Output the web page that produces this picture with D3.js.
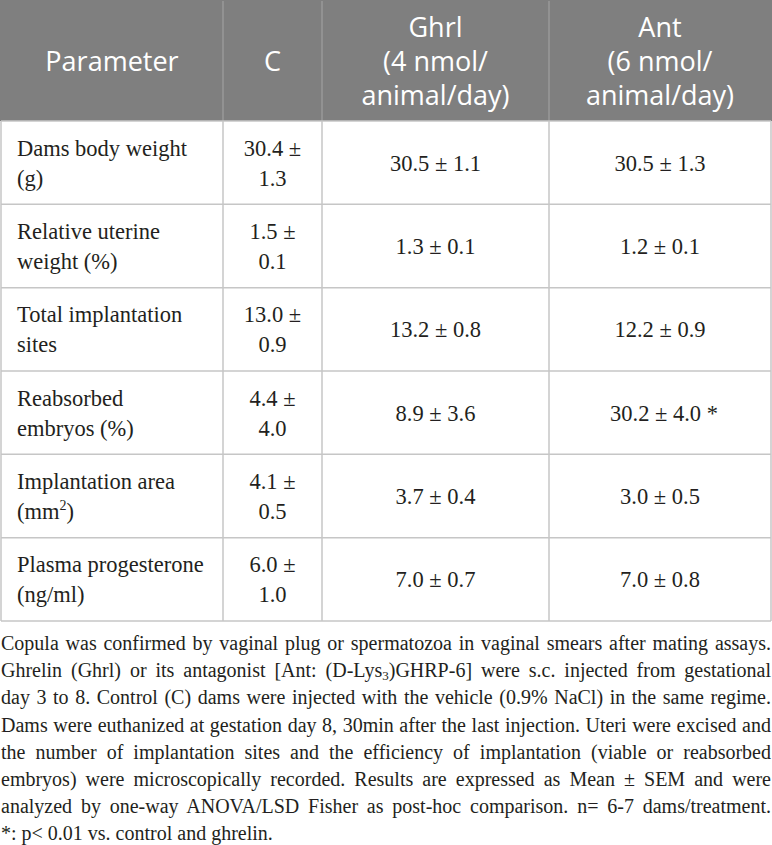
<!DOCTYPE html>
<html>
<head>
<meta charset="utf-8">
<script src="https://cdn.jsdelivr.net/npm/d3@7"></script>
<style>
  body { margin: 0; background: #fff; width: 772px; height: 845px; position: relative; overflow: hidden; }
  svg { position: absolute; left: 0; top: 0; }
  #note { position: absolute; left: 1px; top: 630px; width: 770px;
          font-family: "Liberation Serif", serif; font-size: 20px; line-height: 27.2px; color: #231f20; }
  #note div { white-space: nowrap; text-align: justify; text-align-last: justify; }
  #note div.last { text-align-last: left; }
  #note sub { font-size: 13px; vertical-align: -3px; line-height: 0; }
</style>
</head>
<body>
<svg id="table" width="772" height="625"></svg>
<div id="note"></div>
<script>
// header labels (one entry per line)
const headers = [
    ['Parameter'],
    ['C'],
    ['Ghrl', '(4 nmol/', 'animal/day)'],
    ['Ant', '(6 nmol/', 'animal/day)']
];

// row labels, as they are broken in the table
const parameters = [
    ['Dams body weight', '(g)'],
    ['Relative uterine', 'weight (%)'],
    ['Total implantation', 'sites'],
    ['Reabsorbed', 'embryos (%)'],
    ['Implantation area', '(mm^2)'],
    ['Plasma progesterone', '(ng/ml)']
];

const controlMean = [30.4, 1.5, 13.0, 4.4, 4.1, 6.0];
const controlSem  = [1.3, 0.1, 0.9, 4.0, 0.5, 1.0];
const ghrlMean    = [30.5, 1.3, 13.2, 8.9, 3.7, 7.0];
const ghrlSem     = [1.1, 0.1, 0.8, 3.6, 0.4, 0.7];
const antMean     = [30.5, 1.2, 12.2, 30.2, 3.0, 7.0];
const antSem      = [1.3, 0.1, 0.9, 4.0, 0.5, 0.8];
const antSignif   = [false, false, false, true, false, false];

const noteLines = [
    'Copula was confirmed by vaginal plug or spermatozoa in vaginal smears after mating assays.',
    'Ghrelin (Ghrl) or its antagonist [Ant: (D-Lys<sub>3</sub>)GHRP-6] were s.c. injected from gestational',
    'day 3 to 8. Control (C) dams were injected with the vehicle (0.9% NaCl) in the same regime.',
    'Dams were euthanized at gestation day 8, 30min after the last injection. Uteri were excised and',
    'the number of implantation sites and the efficiency of implantation (viable or reabsorbed',
    'embryos) were microscopically recorded. Results are expressed as Mean \u00b1 SEM and were',
    'analyzed by one-way ANOVA/LSD Fisher as post-hoc comparison. n= 6-7 dams/treatment.',
    '*: p< 0.01 vs. control and ghrelin.'
];

const fmt = d3.format('.1f');
const colEdges = [1, 223, 322, 549, 771];
const headerTop = 1, headerBottom = 121, tableBottom = 621;
const gridColor = '#c6c6c6';
const headerFont = '"Open Sans", sans-serif';
const bodyFont = '"Liberation Serif", serif';

const svg = d3.select('#table');

const x = d3.scaleOrdinal().domain(d3.range(4)).range(d3.range(4).map(i => colEdges[i]));
const colWidth = i => colEdges[i + 1] - colEdges[i];
const y = d3.scaleBand().domain(d3.range(parameters.length)).range([headerBottom, tableBottom]);

// header band
svg.append('rect')
    .attr('x', 0).attr('y', headerTop - 1)
    .attr('width', 772).attr('height', headerBottom - headerTop + 1)
    .attr('fill', '#7f7f7f');

// grid: row lines
svg.append('g').selectAll('line')
    .data(d3.range(parameters.length))
    .join('line')
    .attr('x1', colEdges[0]).attr('x2', colEdges[4])
    .attr('y1', d => y(d) + y.bandwidth()).attr('y2', d => y(d) + y.bandwidth())
    .attr('stroke', gridColor).attr('stroke-width', 1.5);

// grid: column lines
svg.append('g').selectAll('line')
    .data(colEdges)
    .join('line')
    .attr('x1', d => d).attr('x2', d => d)
    .attr('y1', headerBottom).attr('y2', tableBottom)
    .attr('stroke', gridColor).attr('stroke-width', 1.5);

// header separators
svg.append('g').selectAll('line')
    .data(colEdges.slice(1, 4))
    .join('line')
    .attr('x1', d => d).attr('x2', d => d)
    .attr('y1', headerTop).attr('y2', headerBottom)
    .attr('stroke', '#999').attr('stroke-width', 1.5);

svg.append('line')
    .attr('x1', colEdges[0]).attr('x2', colEdges[4])
    .attr('y1', headerBottom).attr('y2', headerBottom)
    .attr('stroke', gridColor).attr('stroke-width', 1.5);

// header text
const headLineH = 34;
const headMid = (headerTop + headerBottom) / 2;
headers.forEach((lines, i) => {
    const t = svg.append('text')
        .attr('font-family', headerFont)
        .attr('font-size', 27)
        .attr('fill', '#fff')
        .attr('text-anchor', 'middle');
    lines.forEach((ln, k) => {
        t.append('tspan')
            .attr('x', x(i) + colWidth(i) / 2)
            .attr('y', headMid + (k - (lines.length - 1) / 2) * headLineH + 10)
            .text(ln);
    });
});

// body text
const bodyLineH = 30;
function addLines(lines, cx, cy, anchor) {
    const t = svg.append('text')
        .attr('font-family', bodyFont)
        .attr('font-size', 22.5)
        .attr('fill', '#231f20')
        .attr('text-anchor', anchor);
    lines.forEach((ln, k) => {
        const ts = t.append('tspan')
            .attr('x', cx)
            .attr('y', cy + (k - (lines.length - 1) / 2) * bodyLineH + 8);
        const parts = ln.split('^');
        if (parts.length === 1) {
            ts.text(ln);
        } else {
            ts.text(parts[0]);
            t.append('tspan').attr('dy', -9).attr('font-size', 14).text(parts[1][0]);
            t.append('tspan').attr('dy', 9).text(parts[1].slice(1));
        }
    });
}

parameters.forEach((lines, r) => {
    const cy = y(r) + y.bandwidth() / 2;
    addLines(lines, x(0) + 16, cy, 'start');
    addLines([fmt(controlMean[r]) + ' \u00b1', fmt(controlSem[r])], x(1) + colWidth(1) / 2, cy, 'middle');
    addLines([fmt(ghrlMean[r]) + ' \u00b1 ' + fmt(ghrlSem[r])], x(2) + colWidth(2) / 2, cy, 'middle');
    addLines([fmt(antMean[r]) + ' \u00b1 ' + fmt(antSem[r]) + (antSignif[r] ? ' *' : '')],
        x(3) + colWidth(3) / 2 + (antSignif[r] ? 4 : 0), cy, 'middle');
});

// footnote
d3.select('#note').selectAll('div')
    .data(noteLines)
    .join('div')
    .attr('class', (d, i) => i === noteLines.length - 1 ? 'last' : null)
    .html(d => d);
</script>
</body>
</html>
